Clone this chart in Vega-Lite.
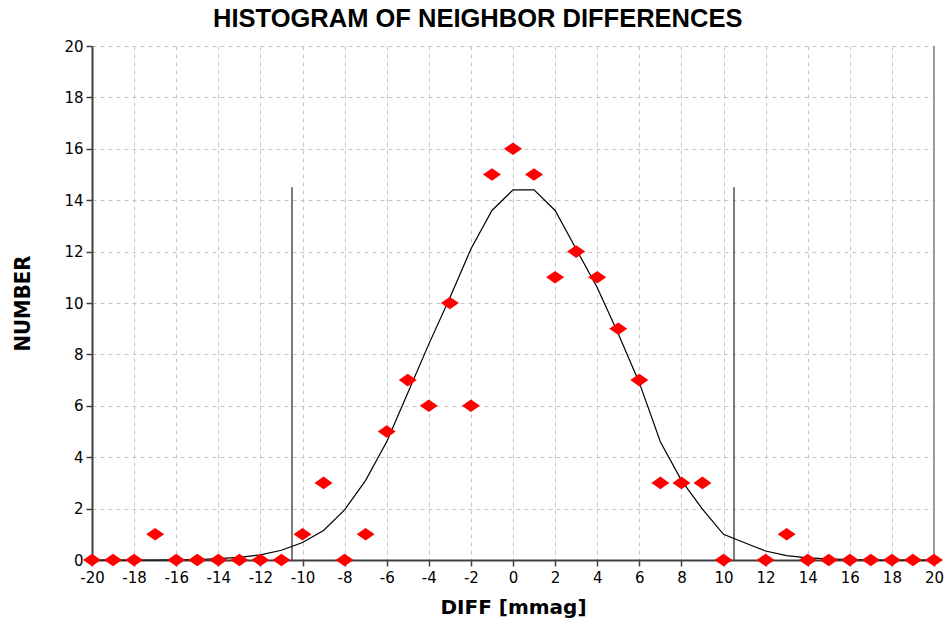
{
  "$schema": "https://vega.github.io/schema/vega-lite/v6.json",
  "width": 842,
  "height": 514,
  "autosize": {"type": "none"},
  "padding": {"left": 92, "top": 46, "right": 12, "bottom": 68},
  "background": "white",
  "title": {
    "text": "HISTOGRAM OF NEIGHBOR DIFFERENCES",
    "font": "Liberation Sans",
    "fontSize": 25.5,
    "fontWeight": "bold",
    "color": "#000000",
    "anchor": "middle",
    "frame": "bounds",
    "baseline": "alphabetic",
    "offset": 10,
    "dy": 23
  },
  "config": {
    "view": {"stroke": null},
    "axis": {
      "labelFont": "DejaVu Sans",
      "labelFontSize": 15,
      "labelColor": "#000000",
      "labelOverlap": false,
      "labelBound": false,
      "labelFlush": false,
      "domainColor": "#404040",
      "domainWidth": 2,
      "tickColor": "#404040",
      "tickWidth": 1.5,
      "tickSize": 6,
      "gridColor": "#c4c4c4",
      "gridDash": [4, 4],
      "gridWidth": 1,
      "titleColor": "#000000"
    }
  },
  "datasets": {
    "points": [
      {"diff": -20, "number": 0}, {"diff": -19, "number": 0}, {"diff": -18, "number": 0},
      {"diff": -17, "number": 1}, {"diff": -16, "number": 0}, {"diff": -15, "number": 0},
      {"diff": -14, "number": 0}, {"diff": -13, "number": 0}, {"diff": -12, "number": 0},
      {"diff": -11, "number": 0}, {"diff": -10, "number": 1}, {"diff": -9, "number": 3},
      {"diff": -8, "number": 0}, {"diff": -7, "number": 1}, {"diff": -6, "number": 5},
      {"diff": -5, "number": 7}, {"diff": -4, "number": 6}, {"diff": -3, "number": 10},
      {"diff": -2, "number": 6}, {"diff": -1, "number": 15}, {"diff": 0, "number": 16},
      {"diff": 1, "number": 15}, {"diff": 2, "number": 11}, {"diff": 3, "number": 12},
      {"diff": 4, "number": 11}, {"diff": 5, "number": 9}, {"diff": 6, "number": 7},
      {"diff": 7, "number": 3}, {"diff": 8, "number": 3}, {"diff": 9, "number": 3},
      {"diff": 10, "number": 0}, {"diff": 12, "number": 0}, {"diff": 13, "number": 1},
      {"diff": 14, "number": 0}, {"diff": 15, "number": 0}, {"diff": 16, "number": 0},
      {"diff": 17, "number": 0}, {"diff": 18, "number": 0}, {"diff": 19, "number": 0},
      {"diff": 20, "number": 0}
    ],
    "curve": [
      {"diff": -20, "fit": 0}, {"diff": -19, "fit": 0}, {"diff": -18, "fit": 0},
      {"diff": -17, "fit": 0}, {"diff": -16, "fit": 0.01}, {"diff": -15, "fit": 0.02},
      {"diff": -14, "fit": 0.05}, {"diff": -13, "fit": 0.1}, {"diff": -12, "fit": 0.2},
      {"diff": -11, "fit": 0.38}, {"diff": -10, "fit": 0.68}, {"diff": -9, "fit": 1.15},
      {"diff": -8, "fit": 1.95}, {"diff": -7, "fit": 3.1}, {"diff": -6, "fit": 4.6},
      {"diff": -5, "fit": 6.5}, {"diff": -4, "fit": 8.4}, {"diff": -3, "fit": 10.2},
      {"diff": -2, "fit": 12.1}, {"diff": -1, "fit": 13.6}, {"diff": 0, "fit": 14.4},
      {"diff": 1, "fit": 14.4}, {"diff": 2, "fit": 13.6}, {"diff": 3, "fit": 12.1},
      {"diff": 4, "fit": 10.6}, {"diff": 5, "fit": 8.8}, {"diff": 6, "fit": 6.9},
      {"diff": 7, "fit": 4.6}, {"diff": 8, "fit": 3.1}, {"diff": 9, "fit": 1.98},
      {"diff": 10, "fit": 1.0}, {"diff": 11, "fit": 0.67}, {"diff": 12, "fit": 0.35},
      {"diff": 13, "fit": 0.17}, {"diff": 14, "fit": 0.08}, {"diff": 15, "fit": 0.04},
      {"diff": 16, "fit": 0.02}, {"diff": 17, "fit": 0}, {"diff": 18, "fit": 0},
      {"diff": 19, "fit": 0}, {"diff": 20, "fit": 0}
    ],
    "limits": [
      {"diff": -10.5, "low": 0, "high": 14.5},
      {"diff": 10.5, "low": 0, "high": 14.5}
    ],
    "border": [
      {"diff": 20, "low": 0, "high": 20}
    ]
  },
  "layer": [
    {
      "data": {"name": "border"},
      "mark": {"type": "rule", "color": "#9a9a9a", "strokeWidth": 2},
      "encoding": {
        "x": {"field": "diff", "type": "quantitative"},
        "y": {"field": "low", "type": "quantitative"},
        "y2": {"field": "high"}
      }
    },
    {
      "data": {"name": "limits"},
      "mark": {"type": "rule", "color": "#505050", "strokeWidth": 1.5},
      "encoding": {
        "x": {"field": "diff", "type": "quantitative"},
        "y": {"field": "low", "type": "quantitative"},
        "y2": {"field": "high"}
      }
    },
    {
      "data": {"name": "curve"},
      "mark": {"type": "line", "color": "#000000", "strokeWidth": 1.2, "interpolate": "linear"},
      "encoding": {
        "x": {"field": "diff", "type": "quantitative"},
        "y": {"field": "fit", "type": "quantitative"}
      }
    },
    {
      "data": {"name": "points"},
      "mark": {
        "type": "point",
        "shape": "M-1,0L0,-0.7L1,0L0,0.7Z",
        "filled": true,
        "color": "#ff0000",
        "opacity": 1,
        "size": 324
      },
      "encoding": {
        "x": {
          "field": "diff",
          "type": "quantitative",
          "scale": {"domain": [-20, 20], "nice": false, "zero": false},
          "axis": {
            "values": [-20, -18, -16, -14, -12, -10, -8, -6, -4, -2, 0, 2, 4, 6, 8, 10, 12, 14, 16, 18, 20],
            "labelExpr": "'' + datum.value",
            "grid": true,
            "labelPadding": 4,
            "title": "DIFF [mmag]",
            "titleFont": "DejaVu Sans",
            "titleFontSize": 20,
            "titleFontWeight": "bold",
            "titlePadding": 12
          }
        },
        "y": {
          "field": "number",
          "type": "quantitative",
          "scale": {"domain": [0, 20], "nice": false},
          "axis": {
            "values": [0, 2, 4, 6, 8, 10, 12, 14, 16, 18, 20],
            "grid": true,
            "labelPadding": 3,
            "title": "NUMBER",
            "titleFont": "Liberation Sans Narrow, DejaVu Sans Condensed, Liberation Sans",
            "titleFontSize": 22,
            "titleFontWeight": "bold",
            "titlePadding": 29
          }
        }
      }
    }
  ]
}
